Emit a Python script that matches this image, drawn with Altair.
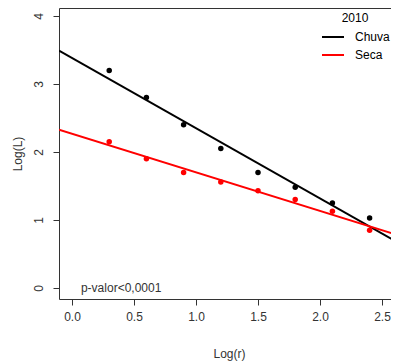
import altair as alt
import pandas as pd

log_r = [0.3, 0.6, 0.9, 1.2, 1.5, 1.8, 2.1, 2.4]
chuva = [3.2, 2.8, 2.4, 2.05, 1.7, 1.48, 1.25, 1.03]
seca = [2.15, 1.9, 1.7, 1.56, 1.43, 1.3, 1.13, 0.85]
series = ["Chuva", "Seca"]
colors = ["#000000", "#ff0000"]
x_ticks = [0.0, 0.5, 1.0, 1.5, 2.0, 2.5]
y_ticks = [0, 1, 2, 3, 4]
x_dom = [-0.105, 2.637]
y_dom = [-0.162, 4.118]
note = "p-valor<0,0001"

df = pd.DataFrame({
    "x": log_r * 2,
    "y": chuva + seca,
    "s": [series[0]] * len(log_r) + [series[1]] * len(log_r),
})

FONT = "Liberation Sans"
TXT = "#333333"

xs = alt.Scale(domain=x_dom, nice=False, zero=False)
ys = alt.Scale(domain=y_dom, nice=False, zero=False)
cs = alt.Scale(domain=series, range=colors)

xaxis = alt.Axis(values=x_ticks, format=".1f", title="Log(r)", grid=False, domain=False,
                 tickSize=6, tickColor=TXT, labelColor=TXT, labelFont=FONT, labelFontSize=12,
                 labelPadding=6, titleFont=FONT, titleFontSize=12, titleFontWeight="normal",
                 titleColor=TXT, titleX=170, titleY=54, titleBaseline="middle")
yaxis = alt.Axis(values=y_ticks, format="d", title="Log(L)", grid=False, domain=False,
                 tickSize=6, tickColor=TXT, labelColor=TXT, labelFont=FONT, labelFontSize=12,
                 labelAngle=270, labelPadding=8, titleFont=FONT, titleFontSize=12,
                 titleFontWeight="normal", titleColor=TXT, titleX=-42, titleBaseline="middle")

base = alt.Chart(df)

lines = base.transform_regression("x", "y", groupby=["s"], extent=x_dom).mark_line(
    strokeWidth=2, clip=True
).encode(
    x=alt.X("x:Q", scale=xs, axis=xaxis),
    y=alt.Y("y:Q", scale=ys, axis=yaxis),
    color=alt.Color("s:N", scale=cs, legend=alt.Legend(
        title="2010", orient="none", legendX=262, legendY=5, symbolType="stroke",
        symbolSize=484, symbolStrokeWidth=2, labelFont=FONT, labelFontSize=12,
        labelColor="#000000", titleFont=FONT, titleFontSize=12, titleFontWeight="normal",
        titleColor="#000000", titleAnchor="middle", titlePadding=0, padding=0,
        rowPadding=-3, labelOffset=10)),
)

points = base.mark_circle(size=30, opacity=1).encode(
    x=alt.X("x:Q", scale=xs),
    y=alt.Y("y:Q", scale=ys),
    color=alt.Color("s:N", scale=cs, legend=None),
)

txt = alt.Chart(pd.DataFrame({"t": [note]})).mark_text(
    align="left", baseline="middle", font=FONT, fontSize=12, color=TXT
).encode(x=alt.datum(0.072), y=alt.datum(0.0), text="t:N")

chart = alt.layer(lines, points, txt).properties(
    width=340, height=291,
    background="white",
    autosize=alt.AutoSizeParams(type="none"),
    padding={"left": 51, "top": 0, "right": -8, "bottom": 62},
).configure_view(stroke=TXT, strokeWidth=1)

chart.save("out.html", embed_options={"renderer": "svg", "actions": False})
